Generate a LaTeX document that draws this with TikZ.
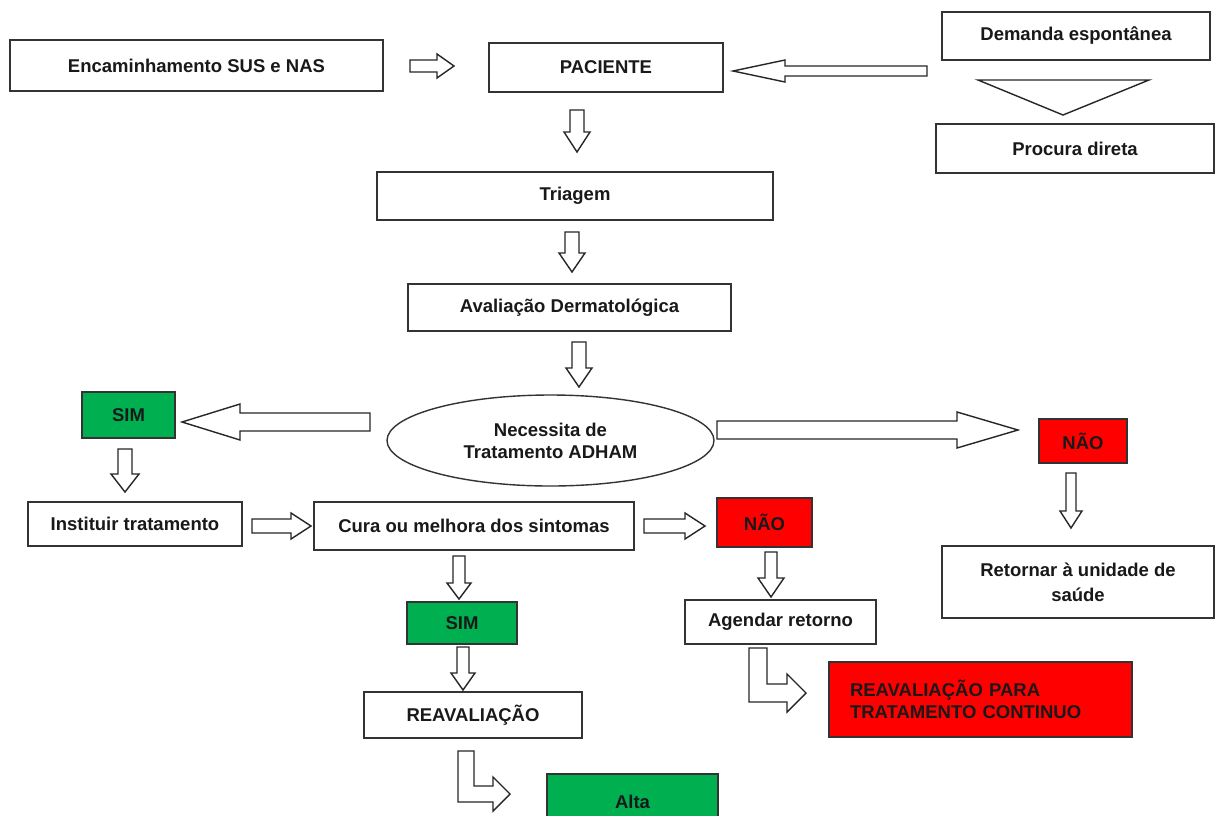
\documentclass[tikz,border=0pt]{standalone}
\usepackage{fontspec}
\setmainfont{Liberation Sans}
\usetikzlibrary{calc,shapes.geometric}
\definecolor{simgreen}{HTML}{00B050}
\definecolor{naored}{HTML}{FF0000}
\tikzset{
  box/.style={draw=black!80,line width=1.4pt,fill=white,rectangle,inner sep=0pt,font=\bfseries\fontsize{18.5}{22}\selectfont,text=black!90,align=center},
  box-sim/.style={box,fill=simgreen},
  box-nao/.style={box,fill=naored},
  box-q/.style={box,ellipse},
  blk/.style={draw=black!85,fill=white,line width=1.4pt,line join=miter},
}
% hollow block arrow: start, tip, shaft half width, head half width, head length
\newcommand{\blkarrow}[5]{%
  \coordinate (blkbase) at ($(#2)!#5pt!(#1)$);
  \draw[blk] ($(#1)!#3pt!90:(#2)$) -- ($(blkbase)!#3pt!90:(#2)$) -- ($(blkbase)!#4pt!90:(#2)$) -- (#2)
    -- ($(blkbase)!#4pt!-90:(#2)$) -- ($(blkbase)!#3pt!-90:(#2)$) -- ($(#1)!#3pt!-90:(#2)$) -- cycle;}
% bent block arrow: top of the bar, tip, shaft half width, head half width, head length
\newcommand{\bentarrow}[5]{%
  \draw[blk] ($(#1)+(-#3,0)$) -- ($(#1)+(#3,0)$) -- ($(#1|-#2)+(#3,-#3)$) -- ($(#2)+(-#5,-#3)$)
    -- ($(#2)+(-#5,-#4)$) -- (#2) -- ($(#2)+(-#5,#4)$) -- ($(#2)+(-#5,#3)$) -- ($(#1|-#2)+(-#3,#3)$) -- cycle;}

\begin{document}
\begin{tikzpicture}[x=1pt,y=-1pt]
  \useasboundingbox (0,0) rectangle (1216,815);
  \clip (0,0) rectangle (1216,815);
  \fill[white] (0,0) rectangle (1216,815);

  % ENTRADA
  \node[box,minimum width=373,minimum height=51] (enc) at (196.5,65.5) {Encaminhamento SUS e NAS};
  \node[box,minimum width=234,minimum height=49] (pac) at (606,67.5)   {PACIENTE};
  \node[box,minimum width=268,minimum height=48] (dem) at (1076,36)    {Demanda espontânea};
  \node[box,minimum width=278,minimum height=49] (pro) at (1075,148.5) {Procura direta};
  \draw[blk] (978,80) -- (1149,80) -- (1063,115) -- cycle;

  \coordinate (a1s) at (410,66);  \coordinate (a1e) at (454,66);
  \coordinate (a2s) at (927,71);  \coordinate (a2e) at (733,71);
  \blkarrow{a1s}{a1e}{6}{12}{17}
  \blkarrow{a2s}{a2e}{5}{11}{52}

  % TRIAGEM
  \node[box,minimum width=396,minimum height=48] (tri) at (575,196)   {Triagem};
  \node[box,minimum width=323,minimum height=47] (ava) at (569.5,307.5) {Avaliação Dermatológica};
  \node[box-q,minimum width=327,minimum height=91] (ell) at (550.5,440.5) {Necessita de\\Tratamento ADHAM};

  \coordinate (a3s) at (577,110); \coordinate (a3e) at (577,152);
  \coordinate (a4s) at (572,232); \coordinate (a4e) at (572,272);
  \coordinate (a5s) at (579,342); \coordinate (a5e) at (579,387);
  \blkarrow{a3s}{a3e}{7}{13}{20}
  \blkarrow{a4s}{a4e}{7}{13}{19}
  \blkarrow{a5s}{a5e}{7}{13}{19}

  % DECISAO
  \node[box-sim,minimum width=93,minimum height=46]  (sim1) at (128.5,415) {SIM};
  \node[box-nao,minimum width=88,minimum height=44]  (nao1) at (1083,441)  {NÃO};
  \node[box,minimum width=214,minimum height=44]     (ins)  at (135,524)   {Instituir tratamento};
  \node[box,minimum width=320,minimum height=48]     (cura) at (474,526)   {Cura ou melhora dos sintomas};
  \node[box-nao,minimum width=95,minimum height=49]  (nao2) at (764.5,522.5) {NÃO};
  \node[box,minimum width=272,minimum height=72]     (ret)  at (1078,582)  {Retornar à unidade de\\[3pt]saúde};

  \coordinate (a6s) at (370,422);  \coordinate (a6e) at (182,422);
  \coordinate (a7s) at (717,430);  \coordinate (a7e) at (1018,430);
  \coordinate (a8s) at (125,449);  \coordinate (a8e) at (125,492);
  \coordinate (a9s) at (252,526);  \coordinate (a9e) at (311,526);
  \coordinate (a10s) at (644,526); \coordinate (a10e) at (705,526);
  \coordinate (a11s) at (1071,473); \coordinate (a11e) at (1071,528);
  \blkarrow{a6s}{a6e}{9}{18}{58}
  \blkarrow{a7s}{a7e}{9}{18}{61}
  \blkarrow{a8s}{a8e}{7}{14}{18}
  \blkarrow{a9s}{a9e}{7}{13}{20}
  \blkarrow{a10s}{a10e}{7}{13}{20}
  \blkarrow{a11s}{a11e}{5}{11}{17}

  % SAIDA
  \node[box-sim,minimum width=110,minimum height=42] (sim2) at (462,623)   {SIM};
  \node[box,minimum width=191,minimum height=44]     (age)  at (780.5,622) {Agendar retorno};
  \node[box,minimum width=218,minimum height=46]     (rea)  at (473,715)   {REAVALIAÇÃO};
  \node[box-nao,minimum width=303,minimum height=75,text width=261,align=left] (reat) at (980.5,699.5) {REAVALIAÇÃO PARA\\TRATAMENTO CONTINUO};
  \node[box-sim,minimum width=171,minimum height=56] (alta) at (632.5,802) {Alta};

  \coordinate (a12s) at (459,556); \coordinate (a12e) at (459,599);
  \coordinate (a13s) at (771,552); \coordinate (a13e) at (771,597);
  \coordinate (a14s) at (463,647); \coordinate (a14e) at (463,690);
  \blkarrow{a12s}{a12e}{6}{12}{16}
  \blkarrow{a13s}{a13e}{6}{13}{19}
  \blkarrow{a14s}{a14e}{6}{12}{17}

  \coordinate (b1s) at (758,648); \coordinate (b1e) at (806,693);
  \coordinate (b2s) at (466,751); \coordinate (b2e) at (510,794);
  \bentarrow{b1s}{b1e}{9}{19}{19}
  \bentarrow{b2s}{b2e}{8}{17}{17}

\end{tikzpicture}
\end{document}
